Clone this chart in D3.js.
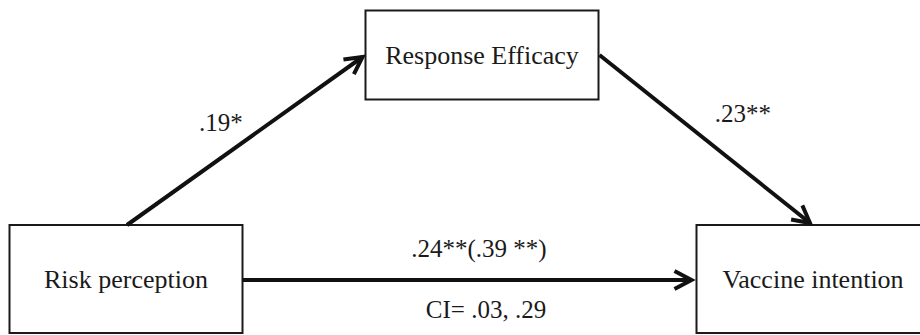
<!DOCTYPE html>
<html>
<head>
<meta charset="utf-8">
<script src="https://cdn.jsdelivr.net/npm/d3@7"></script>
<style>
  body { margin: 0; background: #fff; }
</style>
</head>
<body>
<svg width="920" height="335"></svg>
<script>
// variables in the mediation model
var nodeNames = ["Risk perception", "Response Efficacy", "Vaccine intention"];

// paths: from -> to, with their coefficient labels
var pathFrom = [0, 1, 0];
var pathTo = [1, 2, 2];
var pathLabels = [".19*", ".23**", ".24**(.39 **)"];
var ciLabel = "CI= .03, .29";

var serif = "'Liberation Serif', 'Times New Roman', serif";

var svg = d3.select("svg"),
    width = +svg.attr("width"),
    height = +svg.attr("height");

// layout grid: column 0..2, row 0 (top) / 1 (bottom)
var x = d3.scaleOrdinal().domain([0, 1, 2]).range([126, 482, 813]);
var y = d3.scaleLinear().domain([0, 1]).range([55, 279]);
var nodeCol = [0, 1, 2],
    nodeRow = [1, 0, 1];
var boxW = 233, boxH = 108, boxHTop = 89;

var nodes = nodeNames.map(function(name, i) {
    var h = nodeRow[i] === 0 ? boxHTop : boxH;
    return {name: name, cx: x(nodeCol[i]), cy: y(nodeRow[i]), w: boxW, h: h};
});

svg.append("defs").append("marker")
    .attr("id", "head")
    .attr("markerUnits", "userSpaceOnUse")
    .attr("viewBox", "-22 -12 26 24")
    .attr("markerWidth", 26)
    .attr("markerHeight", 24)
    .attr("refX", 0)
    .attr("refY", 0)
    .attr("orient", "auto")
    .append("path")
    .attr("d", "M-17,-9L0,0L-17,9")
    .attr("fill", "none")
    .attr("stroke", "#111")
    .attr("stroke-width", 4)
    .attr("stroke-linejoin", "miter");

// boxes
var box = svg.append("g").attr("class", "nodes")
    .selectAll("g")
    .data(nodes)
    .enter().append("g");

box.append("rect")
    .attr("x", function(d) { return d.cx - d.w / 2; })
    .attr("y", function(d) { return d.cy - d.h / 2; })
    .attr("width", function(d) { return d.w; })
    .attr("height", function(d) { return d.h; })
    .attr("fill", "#fff")
    .attr("stroke", "#1a1a1a")
    .attr("stroke-width", 2);

box.append("text")
    .attr("x", function(d) { return d.cx; })
    .attr("y", function(d) { return d.cy + 9; })
    .attr("text-anchor", "middle")
    .attr("font-family", serif)
    .attr("fill", "#1a1a1a")
    .attr("font-size", 26)
    .text(function(d) { return d.name; });

// arrows: endpoints on the box edges
function ends(i) {
    var a = nodes[pathFrom[i]], b = nodes[pathTo[i]];
    if (nodeRow[pathFrom[i]] === nodeRow[pathTo[i]]) {
        return [a.cx + a.w / 2, a.cy + 1, b.cx - b.w / 2 - 5, b.cy + 1];
    }
    if (nodeRow[pathFrom[i]] > nodeRow[pathTo[i]]) {
        // up from top of source to left side of target
        return [a.cx + 1, a.cy - a.h / 2, b.cx - b.w / 2 - 3, b.cy + 2];
    }
    // from right side of source down to top of target
    return [a.cx + a.w / 2 + 1, a.cy, b.cx - 3, b.cy - b.h / 2 - 2];
}

svg.append("g").attr("class", "links")
    .selectAll("line")
    .data(pathLabels)
    .enter().append("line")
    .attr("x1", function(d, i) { return ends(i)[0]; })
    .attr("y1", function(d, i) { return ends(i)[1]; })
    .attr("x2", function(d, i) { return ends(i)[2]; })
    .attr("y2", function(d, i) { return ends(i)[3]; })
    .attr("stroke", "#111")
    .attr("stroke-width", 4)
    .attr("marker-end", "url(#head)");

// coefficient labels, placed off the middle of each path
var labelDx = [-24, 38, 12],
    labelDy = [-10, -17, -23];
svg.append("g").attr("class", "labels")
    .selectAll("text")
    .data(pathLabels)
    .enter().append("text")
    .attr("x", function(d, i) { var e = ends(i); return (e[0] + e[2]) / 2 + labelDx[i]; })
    .attr("y", function(d, i) { var e = ends(i); return (e[1] + e[3]) / 2 + labelDy[i]; })
    .attr("text-anchor", "middle")
    .attr("font-family", serif)
    .attr("fill", "#1a1a1a")
    .attr("font-size", 25)
    .text(function(d) { return d; });

svg.append("text")
    .attr("x", 486)
    .attr("y", y(1) + 39)
    .attr("text-anchor", "middle")
    .attr("font-family", serif)
    .attr("fill", "#1a1a1a")
    .attr("font-size", 25)
    .text(ciLabel);
</script>
</body>
</html>
